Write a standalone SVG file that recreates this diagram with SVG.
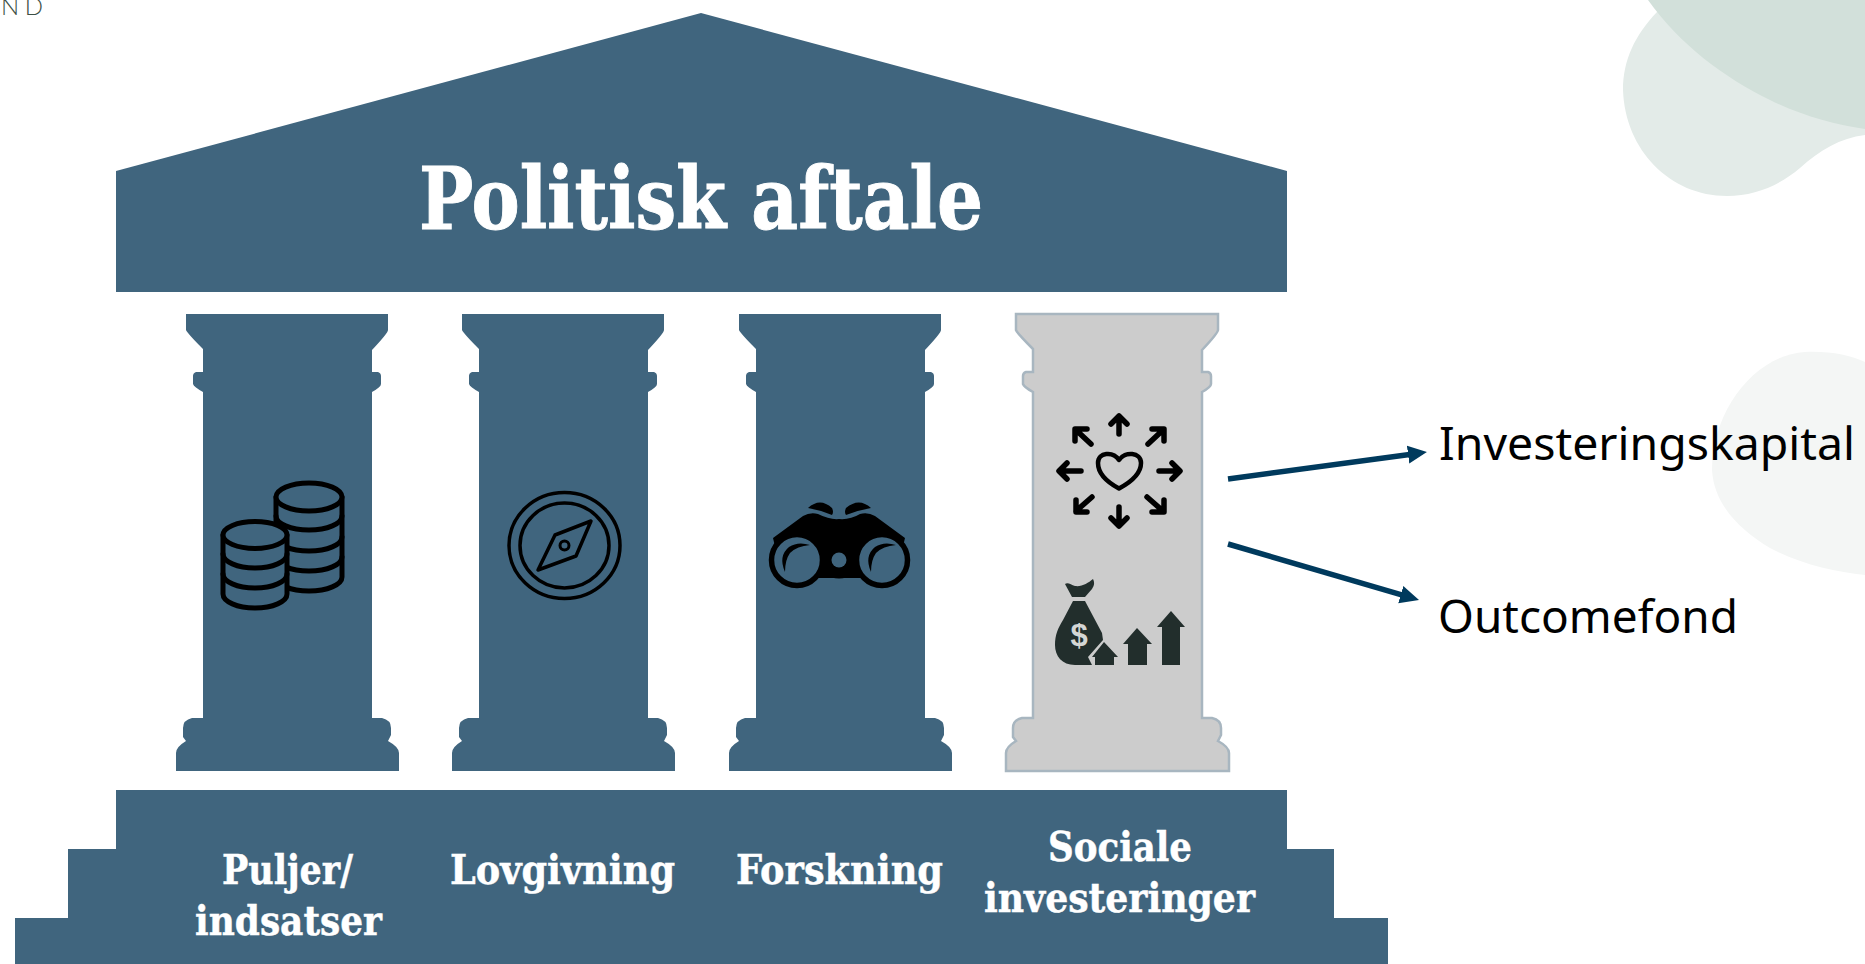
<svg xmlns="http://www.w3.org/2000/svg" xmlns:xlink="http://www.w3.org/1999/xlink" width="1865" height="964" viewBox="0 0 1865 964">
<style>
.stone{fill:#40657e}
.slab{font-family:"DejaVu Serif","Liberation Serif",serif;font-weight:700;fill:#fff;stroke:#fff}
.lab{font-size:41px;stroke-width:.5px}
.side{font-family:"Noto Sans","Open Sans",sans-serif;font-size:46px;fill:#000}
.ink{fill:none;stroke:#000;stroke-linecap:round;stroke-linejoin:round}
.bag{fill:#222e2c}
.conn{fill:none;stroke:#003a5d;stroke-width:5.5}
</style>
<defs>
<filter id="soft" x="-5%" y="-5%" width="110%" height="110%"><feGaussianBlur stdDeviation="0.7"/></filter>
<path id="pillar" d="M186 314V330Q187 333 203 349V372H196Q193 373 193 376V384Q194 387 203 392V718H192Q183 720 183 728V737L186 741Q176 747 176 753V771H399V753Q399 747 388 741L391 735V728Q391 720 382 718H372V392Q381 387 381 384V376Q381 373 378 372H372V350Q388 333 388 330V314Z"/>
<marker id="head" markerUnits="userSpaceOnUse" markerWidth="22" markerHeight="22" viewBox="0 0 22 22" refX="9" refY="11" orient="auto"><path d="M0 2 L19 11 L0 20 Z" fill="#003a5d"/></marker>
</defs>

<g id="backdrop">
<path fill="#f4f6f5" d="M1865 362C1850 355 1830 351 1805 352C1755 355 1712 410 1712 470C1714 505 1740 530 1770 548C1800 564 1835 572 1865 575Z"/>
<path fill="#e3ebe8" d="M1657 12C1635 35 1623 60 1623 90C1625 150 1670 196 1727 196C1755 196 1780 185 1800 168C1820 150 1840 138 1865 135V0H1670Z"/>
<path fill="#d2e0da" d="M1648 0C1680 45 1725 78 1770 100C1800 115 1835 125 1865 129V0Z"/>
</g>

<text id="corner-text" x="1" y="15" font-family="Lato,'Noto Sans',sans-serif" font-weight="300" font-size="24" fill="#3d4f45" textLength="42" lengthAdjust="spacing">ND</text>

<g id="roof">
<path class="stone" filter="url(#soft)" d="M701 13L1287 171V292H116V171Z"/>
<text class="slab" x="419" y="229" font-size="86" stroke-width="1" textLength="564" lengthAdjust="spacingAndGlyphs">Politisk aftale</text>
</g>

<g id="pillar-puljer">
<use xlink:href="#pillar" class="stone" filter="url(#soft)"/>
<g class="ink" stroke-width="5">
<path d="M276 497V577A33 14 0 0 0 342 577V497" fill="#40657e"/>
<ellipse cx="309" cy="497" rx="33" ry="14" fill="#40657e"/>
<path d="M276 516A33 14 0 0 0 342 516M276 537A33 14 0 0 0 342 537M276 557A33 14 0 0 0 342 557"/>
<path d="M223 535V594A32 14 0 0 0 287 594V535" fill="#40657e"/>
<ellipse cx="255" cy="535" rx="32" ry="13.5" fill="#40657e"/>
<path d="M223 554A32 14 0 0 0 287 554M223 574A32 14 0 0 0 287 574"/>
</g>
</g>

<g id="pillar-lovgivning">
<use xlink:href="#pillar" x="276" class="stone" filter="url(#soft)"/>
<g class="ink" stroke-width="3.5">
<ellipse cx="564.5" cy="545.5" rx="55.5" ry="53"/>
<ellipse cx="564.5" cy="545.5" rx="44.5" ry="42.5"/>
<path d="M591 521L555 535L538 570L576 556Z"/>
<circle cx="564.5" cy="545.5" r="4.5" stroke-width="3"/>
</g>
</g>

<g id="pillar-forskning">
<use xlink:href="#pillar" x="553" class="stone" filter="url(#soft)"/>
<path fill="#000" d="M773 538L803 516Q810 512 818 514Q830 520 839 519Q850 520 860 514Q868 512 875 516L905 538L895 580H783Z"/>
<rect x="760" y="578" width="160" height="22" fill="#40657e"/>
<circle cx="797" cy="560" r="25.5" fill="#40657e" stroke="#000" stroke-width="5.5"/>
<circle cx="882" cy="560" r="25.5" fill="#40657e" stroke="#000" stroke-width="5.5"/>
<path fill="#000" d="M824 574Q839 583 854 574V548H824Z"/>
<circle cx="839" cy="560" r="7.5" fill="#40657e"/>
<path fill="#000" d="M808 508Q820 497 832 508Q834 512 832 515Q820 510 808 508ZM871 508Q859 497 846 508Q844 512 846 515Q859 510 871 508Z"/>
<path fill="#000" d="M785 572Q778 556 789 547Q798 541 810 545Q797 546 790 553Q785 560 785 572ZM871 572Q864 556 875 547Q884 541 896 545Q883 546 876 553Q871 560 871 572Z"/>
</g>

<g id="pillar-sociale">
<use xlink:href="#pillar" x="830" fill="#cccccc" stroke="#a8b6c0" stroke-width="2.5"/>
<path class="ink" stroke-width="4.5" d="M1119 488.500C1105 481 1098 473 1098 463C1098 452 1113 451 1119 460C1125 451 1141 452 1141 463C1141 473 1133 481 1119 488.500Z"/>
<g class="ink" stroke-width="5.5">
<path d="M1119 434V416M1111 424L1119 416L1127 424"/>
<path d="M1119 507V526M1111 518L1119 526L1127 518"/>
<path d="M1159 471H1179M1172 463L1180 471L1172 479"/>
<path d="M1081 471H1060M1067 463L1059 471L1067 479"/>
<path d="M1148 444L1163 430M1152 429H1164V441"/>
<path d="M1091 444L1076 430M1087 429H1075V441"/>
<path d="M1092 497L1076 511M1076 500V512H1087"/>
<path d="M1147 497L1163 511M1164 500V512H1152"/>
</g>
<path class="bag" d="M1065 584C1068 582 1071 585 1075 586C1082 587 1088 583 1093 579C1095 583 1094 586 1092 589L1085 597H1072ZM1073 601H1085L1102 633L1103 640L1088 657L1092 665H1075C1062 665 1055 656 1055 645C1055 635 1058 628 1063 620Z"/>
<path class="bag" d="M1104 642L1118 657H1114V665H1095V657H1092ZM1137 628L1152 644H1147V665H1128V644H1123ZM1171 611L1185 627H1180V665H1162V627H1157Z"/>
<text x="1079" y="646" text-anchor="middle" font-family="'Liberation Sans',sans-serif" font-weight="700" font-size="31" fill="#d4d6d5">$</text>
</g>

<g id="base">
<path class="stone" filter="url(#soft)" d="M116 790H1287V849H1334V918H1388V964H15V918H68V849H116Z"/>
<text class="slab lab" x="222" y="884" textLength="131" lengthAdjust="spacingAndGlyphs">Puljer/</text>
<text class="slab lab" x="195" y="935" textLength="187" lengthAdjust="spacingAndGlyphs">indsatser</text>
<text class="slab lab" x="450" y="884" textLength="225" lengthAdjust="spacingAndGlyphs">Lovgivning</text>
<text class="slab lab" x="736" y="884" textLength="207" lengthAdjust="spacingAndGlyphs">Forskning</text>
<text class="slab lab" x="1048" y="861" textLength="144" lengthAdjust="spacingAndGlyphs">Sociale</text>
<text class="slab lab" x="984" y="912" textLength="271" lengthAdjust="spacingAndGlyphs">investeringer</text>
</g>

<g id="connectors">
<path class="conn" marker-end="url(#head)" d="M1228 479L1417 453.400"/>
<path class="conn" marker-end="url(#head)" d="M1228 544L1409.400 597.200"/>
</g>

<g id="label-investeringskapital"><text class="side" x="1439" y="460" textLength="416" lengthAdjust="spacingAndGlyphs">Investeringskapital</text></g>
<g id="label-outcomefond"><text class="side" x="1438" y="633" textLength="300" lengthAdjust="spacingAndGlyphs">Outcomefond</text></g>
</svg>
